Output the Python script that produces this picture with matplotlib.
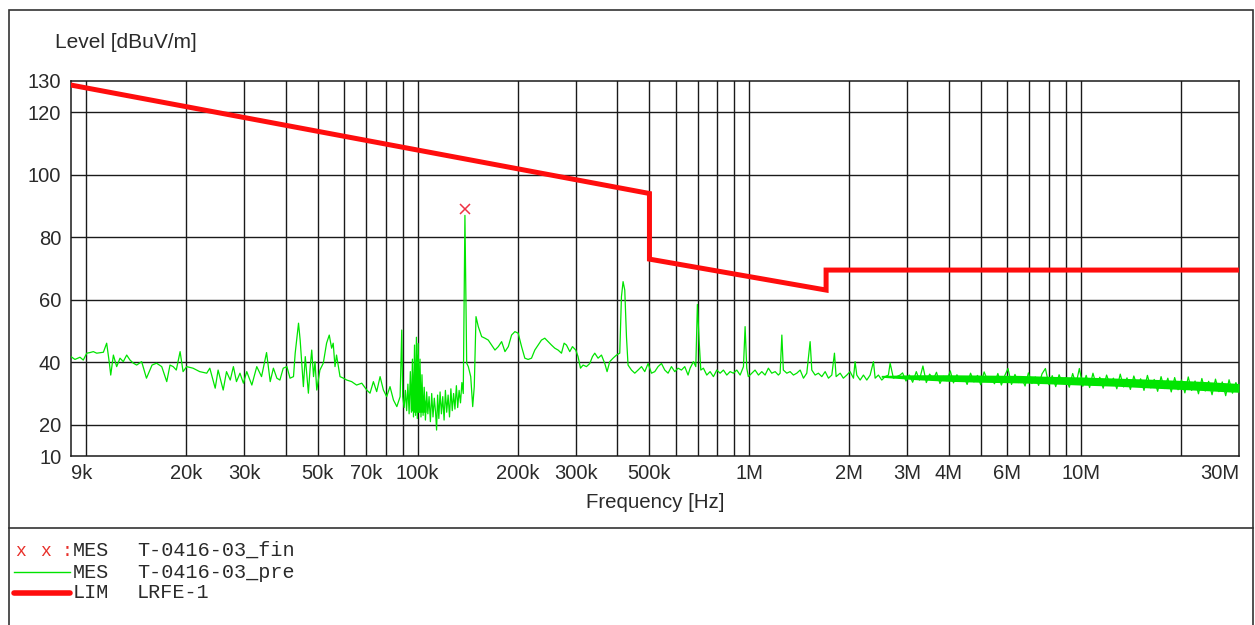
import matplotlib
matplotlib.use("Agg")
import matplotlib.pyplot as plt
from matplotlib.lines import Line2D
import numpy as np

W, H = 1255, 625
GREEN = '#00e400'
RED = '#ff0d0d'

# final measurement (red x)
fin_freq_khz = [139.0]
fin_level = [89.0]

# limit LRFE-1
lim_freq_khz = [9, 500, 500, 1705, 1705, 30000]
lim_level = [128.7, 94.0, 73.0, 63.1, 69.5, 69.5]

# pre-scan trace
pre_a_khz = [9.0, 9.25, 9.58, 9.80, 10.04, 10.27, 10.51, 10.76, 11.27, 11.53,
             11.75, 11.86, 12.08, 12.36, 12.65, 12.94, 13.25, 13.56, 13.88, 14.2,
             14.7, 15.2, 15.8, 16.3, 16.9, 17.5, 17.9, 18.3, 18.7, 19.2,
             19.6, 20.1, 21.0, 22.0, 23.1, 23.6, 24.5, 25.0, 25.9, 26.5,
             27.2, 27.8, 28.4, 29.1, 29.8, 30.5, 31.6, 32.7, 33.8, 35.0,
             35.9, 36.7, 37.6]
pre_a_lvl = [41.8, 40.9, 41.6, 40.7, 42.9, 43.1, 43.4, 42.9, 43.2, 46.1,
             39.7, 35.9, 42.3, 38.6, 41.3, 40.2, 42.3, 40.7, 39.7, 39.1,
             40.2, 34.9, 39.1, 39.7, 38.6, 33.8, 39.1, 38.6, 37.5, 43.4,
             37.0, 38.6, 38.1, 37.0, 36.5, 38.1, 31.7, 37.5, 31.1, 37.0,
             34.3, 38.6, 33.8, 36.5, 33.3, 37.0, 32.7, 38.6, 35.4, 43.1,
             33.8, 38.1, 34.9]

pre_b_khz = [38.4, 39.3, 40.3, 41.2, 42.2, 42.7, 43.7, 44.2, 44.7, 45.2,
             45.8, 46.8, 47.4, 47.9, 48.5, 49.0, 49.6, 50.7, 51.9, 53.1,
             54.1, 55.0, 55.6, 56.3, 56.9, 58.3, 59.7, 61.1, 63.2, 65.4,
             67.8, 70.2, 71.8, 73.5, 75.2, 77.0, 78.8, 80.6, 82.5, 84.5,
             86.5, 88.5]
pre_b_lvl = [34.3, 38.1, 38.6, 34.9, 35.4, 42.9, 52.5, 47.1, 39.7, 32.2,
             41.8, 30.1, 38.6, 43.9, 35.4, 40.2, 31.1, 37.5, 39.7, 46.1,
             48.7, 44.5, 46.1, 38.6, 42.3, 35.4, 34.9, 34.3, 33.8, 32.7,
             33.3, 31.1, 30.1, 33.8, 30.6, 35.4, 31.1, 29.0, 32.2, 27.9,
             25.8, 29.0]

# dense burst around 100k up to the 139k spike
pre_burst_khz = [89.5, 90.1, 91.0, 91.8, 92.6, 93.4, 94.2, 95.0, 95.7, 96.4,
                 97.1, 97.8, 98.5, 99.1, 99.7, 100.3, 100.9, 101.6, 102.3, 103.0,
                 103.8, 104.6, 105.5, 106.4, 107.3, 108.2, 109.2, 110.2, 111.2, 112.2,
                 113.2, 114.0, 114.8, 115.8, 116.8, 117.9, 119.0, 120.1, 121.2, 122.3,
                 123.5, 124.7, 125.9, 127.1, 128.3, 129.5, 130.8, 132.0, 133.3, 134.6,
                 135.9, 137.2, 138.8, 140.5, 142.1, 144.5, 146.5, 148.1, 149.9]
pre_burst_lvl = [50.3, 29.0, 25.5, 31.0, 24.5, 33.0, 23.5, 37.0, 24.0, 41.0,
                 22.5, 45.5, 23.0, 48.0, 22.0, 46.0, 24.0, 41.0, 22.5, 36.0,
                 23.0, 32.0, 21.5, 30.5, 23.5, 29.0, 21.0, 30.0, 22.5, 28.5,
                 24.0, 18.3, 29.5, 22.0, 30.5, 23.5, 29.0, 21.5, 31.0, 24.0,
                 29.5, 22.5, 31.5, 24.5, 30.0, 25.0, 32.5, 25.5, 31.0, 27.0,
                 33.5, 30.0, 87.0, 39.7, 38.6, 35.4, 25.8, 32.2, 54.6]

pre_c_khz = [152.3, 155.9, 159.5, 163.2, 167.1, 171.0, 175.0, 179.1, 183.3, 187.6,
             191.9, 196.4, 200.9, 205.7, 210.4, 215.3, 220.4, 225.5, 230.7, 236.2,
             241.7, 247.3, 253.2, 259.1, 265.1, 271.4, 276.4, 281.0, 287.5, 292.9,
             299.7, 304.5, 309.7, 315.3, 322.8, 330.3, 336.5, 342.0, 349.9, 358.3,
             366.6, 372.5, 379.5, 388.3, 397.6, 406.8, 411.6, 416.3, 421.2, 426.2,
             430.9, 441.3, 451.5, 462.0, 473.1, 484.0, 495.3, 507.0, 518.8, 530.8,
             543.5, 556.1, 569.0, 582.5, 596.1, 609.9, 624.4, 638.9, 653.7]
pre_c_lvl = [51.4, 48.2, 47.7, 47.1, 45.5, 43.9, 45.0, 46.6, 43.4, 45.0,
             48.7, 49.8, 49.3, 45.0, 41.3, 40.9, 41.3, 43.9, 45.5, 47.1,
             47.7, 46.6, 45.5, 44.5, 43.9, 42.9, 46.1, 45.5, 43.4, 45.0,
             43.9, 41.8, 38.1, 39.1, 38.6, 39.6, 41.8, 42.9, 41.3, 42.3,
             39.6, 37.0, 40.2, 41.3, 42.3, 42.9, 61.0, 65.8, 63.1, 48.2,
             39.1, 37.5, 36.5, 37.5, 38.6, 37.0, 39.6, 36.5, 37.0, 38.6,
             39.6, 37.5, 36.5, 38.6, 37.0, 38.1, 37.5, 38.6, 35.9]

pre_d_khz = [663.1, 678.5, 689.8, 697.5, 705.8, 714.2, 727.2, 744.5, 761.8, 779.6,
             798.1, 816.7, 835.7, 855.5, 875.4, 895.7, 917, 938.5, 960.5, 971.5,
             982.7, 993.6, 1018, 1041, 1066, 1091, 1116, 1142, 1169, 1197,
             1224, 1239, 1254, 1267, 1298, 1328, 1359, 1391, 1424, 1457,
             1491, 1526, 1544, 1580, 1616, 1655, 1694, 1733, 1774, 1807,
             1828, 1880, 1922, 1969, 2014, 2062, 2085, 2110, 2160, 2210,
             2262, 2315, 2369, 2397, 2452, 2510, 2569, 2628, 2660, 2721,
             2786, 2850]
pre_d_lvl = [38.1, 40.2, 38.6, 58.5, 47.1, 37.5, 38.1, 35.9, 37.0, 35.4,
             37.5, 36.5, 37.5, 35.9, 37.0, 36.5, 37.5, 35.9, 38.6, 51.4,
             38.1, 35.4, 36.5, 37.5, 35.9, 37.0, 35.9, 38.1, 36.5, 37.0,
             35.9, 36.5, 48.7, 37.5, 36.5, 37.0, 35.9, 36.5, 37.5, 34.9,
             36.5, 46.6, 37.5, 35.9, 36.5, 35.4, 37.0, 34.9, 35.9, 42.9,
             35.4, 36.5, 34.9, 35.9, 37.0, 34.9, 40.2, 35.9, 34.3, 35.9,
             34.3, 35.9, 40.2, 34.9, 35.9, 34.3, 35.4, 35.9, 39.7, 34.9,
             35.4, 35.9]

pre_e_mhz = [2.90, 2.97, 3.04, 3.11, 3.19, 3.26, 3.34, 3.42, 3.50, 3.59,
             3.67, 3.76, 3.85, 3.94, 4.04, 4.13, 4.23, 4.33, 4.44, 4.54,
             4.65, 4.76, 4.88, 4.99, 5.11, 5.24, 5.36, 5.49, 5.62, 5.76,
             5.89, 6.03, 6.18, 6.33, 6.48, 6.63, 6.79, 6.95, 7.12, 7.29,
             7.46, 7.64, 7.82, 8.01, 8.20, 8.40, 8.60, 8.80, 9.01, 9.23,
             9.45, 9.67, 9.90, 10.14, 10.38, 10.63, 10.88, 11.14, 11.41, 11.68,
             11.96, 12.25, 12.54, 12.84, 13.15, 13.46, 13.78, 14.11, 14.45, 14.80,
             15.15, 15.51, 15.88, 16.26, 16.65, 17.05, 17.46, 17.87, 18.30, 18.74,
             19.19, 19.65, 20.12, 20.60, 21.09, 21.59, 22.11, 22.64, 23.18, 23.73,
             24.30, 24.88, 25.48, 26.09, 26.71, 27.35, 28.00, 28.67, 29.36, 30.00]
pre_e_lvl = [36.6, 34.0, 35.9, 33.6, 37.0, 34.3, 38.8, 33.5, 36.2, 34.6,
             36.8, 33.2, 35.5, 34.1, 37.2, 33.4, 36.0, 33.9, 35.4, 32.9,
             36.5, 33.7, 35.8, 32.8, 36.9, 34.0, 35.2, 33.1, 36.4, 32.7,
             35.6, 38.0, 32.9, 36.1, 33.5, 35.0, 32.4, 36.6, 33.2, 35.3,
             32.6, 36.3, 38.0, 32.8, 35.7, 32.2, 36.0, 33.4, 35.1, 32.0,
             36.4, 33.0, 38.0, 32.3, 35.8, 31.9, 36.5, 32.6, 35.2, 31.7,
             35.9, 32.8, 34.9, 31.5, 36.2, 32.1, 35.0, 31.3, 35.6, 32.4,
             34.7, 31.0, 35.8, 31.8, 34.5, 30.7, 35.4, 31.6, 34.9, 30.5,
             35.1, 31.2, 34.3, 30.2, 35.3, 31.0, 34.0, 29.9, 34.8, 30.8,
             33.9, 29.6, 34.6, 30.6, 33.7, 29.3, 34.4, 30.1, 33.5, 30.8]

# solid core of the 100k burst (upper / lower edge)
burst_khz = [95, 97, 99, 100, 101.5, 103, 106]
burst_hi = [29, 37, 43, 42, 36, 30, 27]
burst_lo = [25, 24, 24, 24, 24, 24, 24]

# solid core of the noise band above 2.5 MHz (upper / lower edge)
band_mhz = [2.5, 3.2, 4, 5, 6.5, 8, 10, 13, 16, 20, 24, 28, 30]
band_hi = [35.8, 36.0, 36.0, 35.9, 35.8, 35.5, 35.3,
           34.9, 34.6, 34.2, 33.8, 33.4, 33.2]
band_lo = [35.2, 34.4, 33.9, 33.6, 33.4, 33.1, 32.7,
           32.3, 31.8, 31.3, 30.9, 30.5, 30.4]

xtick_hz = [9e3, 20e3, 30e3, 50e3, 70e3, 100e3, 200e3, 300e3, 500e3,
            1e6, 2e6, 3e6, 4e6, 6e6, 10e6, 30e6]
xtick_labels = ['9k', '20k', '30k', '50k', '70k', '100k', '200k', '300k', '500k',
                '1M', '2M', '3M', '4M', '6M', '10M', '30M']
ytick_vals = [10, 20, 40, 60, 80, 100, 120, 130]


def fx(x):
    return x / W


def fy(y):
    return 1 - y / H


plt.rcParams['font.family'] = ['Liberation Sans', 'DejaVu Sans']

fig = plt.figure(figsize=(W / 100, H / 100), dpi=100)
ax = fig.add_axes([fx(71), fy(456), fx(1239) - fx(71), fy(81) - fy(456)])

pre_freq = np.concatenate([np.array(pre_a_khz) * 1e3, np.array(pre_b_khz) * 1e3,
                           np.array(pre_burst_khz) * 1e3,
                           np.array(pre_c_khz) * 1e3, np.array(pre_d_khz) * 1e3,
                           np.array(pre_e_mhz) * 1e6])
pre_lvl = np.concatenate([pre_a_lvl, pre_b_lvl, pre_burst_lvl, pre_c_lvl,
                          pre_d_lvl, pre_e_lvl])

ax.fill_between(np.array(burst_khz) * 1e3, burst_lo, burst_hi, color=GREEN,
                lw=0, zorder=3)
ax.fill_between(np.array(band_mhz) * 1e6, band_lo, band_hi, color=GREEN,
                lw=0, zorder=3)
ax.plot(pre_freq, pre_lvl, color=GREEN, lw=0.9, zorder=4)
ax.plot(np.array(lim_freq_khz) * 1e3, lim_level, color=RED, lw=3.6,
        solid_joinstyle='miter', zorder=5)
ax.plot(np.array(fin_freq_khz) * 1e3, fin_level, ls='none', marker='x',
        ms=7, mew=1.1, color='#ee3344', zorder=6)

ax.set_xscale('log')
ax.set_xlim(9e3, 30e6)
ax.set_ylim(10, 130)

# grid lines at every 1..9 x decade
grid_hz = [m * 10 ** e for e in range(4, 8) for m in range(1, 10)]
grid_hz = [g for g in grid_hz if 9e3 < g < 30e6]
for g in grid_hz:
    ax.axvline(g, color='#1a1a1a', lw=1.0, zorder=1)
for v in [20, 40, 60, 80, 100, 120]:
    ax.axhline(v, color='#1a1a1a', lw=1.0, zorder=1)

ax.set_xticks(xtick_hz)
ax.set_xticklabels(xtick_labels)
ax.xaxis.set_minor_locator(matplotlib.ticker.NullLocator())
ax.set_yticks(ytick_vals)
ax.set_yticklabels([str(v) for v in ytick_vals])
ax.tick_params(length=0, labelsize=14.5, colors='#2a2a2a', pad=6)
ax.tick_params(axis='y', pad=7)
labels = ax.get_xticklabels()
labels[0].set_ha('left')
labels[-1].set_ha('right')

for s in ax.spines.values():
    s.set_color('#1a1a1a')
    s.set_linewidth(1.1)

fig.text(fx(55), fy(42), 'Level [dBuV/m]', fontsize=15, color='#2a2a2a',
         va='center', ha='left')
fig.text(fx(655), fy(503), 'Frequency [Hz]', fontsize=14.7, color='#2a2a2a',
         va='center', ha='center')

# outer frame and the separator above the legend
fig.add_artist(plt.Rectangle((fx(9), -0.05), fx(1253) - fx(9), fy(10) + 0.05,
                             fill=False, ec='#333333', lw=1.2,
                             transform=fig.transFigure))
fig.add_artist(Line2D([fx(9), fx(1253)], [fy(528), fy(528)], color='#333333',
                      lw=1.2, transform=fig.transFigure))

# legend block
mono = ['Liberation Mono', 'DejaVu Sans Mono']
rows = [(550, 'MES', 'T-0416-03_fin'), (572, 'MES', 'T-0416-03_pre'),
        (593, 'LIM', 'LRFE-1')]
for y, kind, name in rows:
    fig.text(fx(73), fy(y), kind, family=mono, fontsize=14.5, color='#2a2a2a',
             va='center', ha='left')
    fig.text(fx(137), fy(y), name, family=mono, fontsize=14.5, color='#2a2a2a',
             va='center', ha='left')
for x, s in [(15, 'x'), (40, 'x'), (62, ':')]:
    fig.text(fx(x), fy(551), s, family=mono, fontsize=13, color='#e8302a',
             va='center', ha='left')
fig.add_artist(Line2D([fx(14), fx(70)], [fy(572), fy(572)], color=GREEN, lw=1.0,
                      transform=fig.transFigure))
fig.add_artist(Line2D([fx(14), fx(70)], [fy(593), fy(593)], color=RED, lw=4.0,
                      solid_capstyle='round', transform=fig.transFigure))

fig.savefig('out.png', dpi=100)
